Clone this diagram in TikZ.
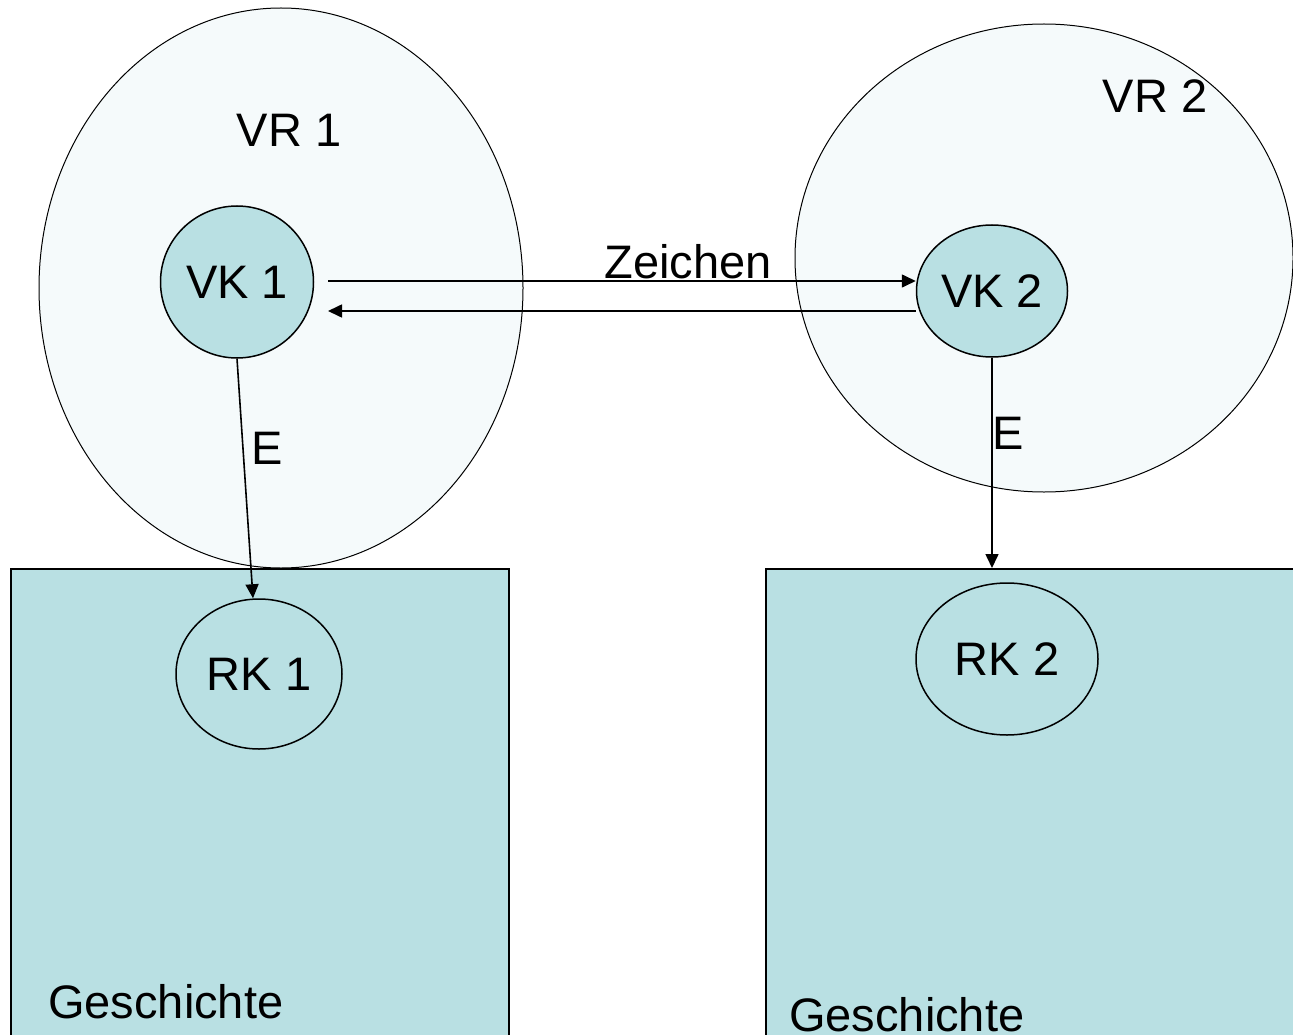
\documentclass[tikz,border=0pt]{standalone}
\usepackage{fontspec}
\setmainfont{Liberation Sans}
\usetikzlibrary{shapes.geometric,arrows.meta}
\definecolor{raumBg}{RGB}{245,250,251}
\definecolor{kreisBg}{RGB}{185,224,227}

\begin{document}
\begin{tikzpicture}[x=1pt,y=-1pt,
  raum/.style={draw, ellipse, fill=raumBg, line width=1pt, inner sep=0pt},
  feld/.style={draw, fill=kreisBg, line width=1.5pt, inner sep=0pt},
  kreis/.style={draw, ellipse, fill=kreisBg, line width=1.5pt, inner sep=0pt},
  schrift/.style={inner sep=0pt},
  pfeil/.style={-{Triangle[length=14pt,width=13pt]}, line width=1.6pt},
  every node/.style={font=\fontsize{47}{56}\selectfont}]
   \useasboundingbox (0,0) rectangle (1293,1035);
   \fill[white] (0,0) rectangle (1293,1035);

   % Vorstellungsraeume
   \node[raum, minimum width=484, minimum height=560] (vr1) at (281,288) {};
   \node[raum, minimum width=498, minimum height=468] (vr2) at (1044,258) {};

   % Felder unten
   \node[feld, anchor=north west, minimum width=498, minimum height=480] (rf1) at (10,568) {};
   \node[feld, anchor=north west, minimum width=540, minimum height=480] (rf2) at (765,568) {};

   \node[kreis, minimum width=153, minimum height=152] (vk1) at (237,282) {VK 1};
   \node[kreis, minimum width=151, minimum height=132] (vk2) at (992,291) {VK 2};
   \node[kreis, minimum width=166, minimum height=150] (rk1) at (259,674) {RK 1};
   \node[kreis, minimum width=182, minimum height=152] (rk2) at (1007,659) {RK 2};

   \node[schrift] (vrtext1) at (289,130) {VR 1};
   \node[schrift] (vrtext2) at (1155,96) {VR 2};
   \node[schrift] (zeichen) at (688,262) {Zeichen};
   \node[schrift] (e1) at (267,448) {E};
   \node[schrift] (e2) at (1008,433) {E};
   \node[schrift, anchor=west] (gesch1) at (48,1002) {Geschichte};
   \node[schrift, anchor=west] (gesch2) at (789,1015) {Geschichte};

   \coordinate (hin) at (328,281);
   \coordinate (rueck) at (328,311);
   \draw[pfeil] (hin) -- (vk2.west |- hin);
   \draw[pfeil] (vk2.west |- rueck) -- (rueck);

   \draw[pfeil] (vk1.south) -- ([xshift=-6]rk1.north);
   \draw[pfeil] (vk2.south) -- (vk2.south |- rf2.north);

\end{tikzpicture}
\end{document}
